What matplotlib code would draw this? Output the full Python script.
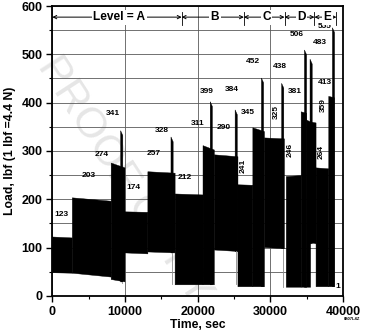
import matplotlib
matplotlib.use("Agg")
import matplotlib.pyplot as plt
from matplotlib.ticker import MultipleLocator

plt.rcParams['font.family'] = ['Liberation Sans', 'DejaVu Sans']
plt.rcParams['font.weight'] = 'bold'

# load blocks: start/end time, top (max) and bottom (min) load at block start and end
blk_start = [0, 2750, 8100, 10000, 13150, 16900, 20740, 22300, 25550, 27600, 29200,
             32200, 34250, 35000, 35550, 36300, 38050]
blk_end = [2750, 8100, 10000, 13150, 16900, 20740, 22300, 25550, 27600, 29200, 31950,
           34250, 35000, 35550, 36300, 38050, 38830]
top_a = [122, 203, 275, 174, 257, 211, 311, 292, 230, 348, 327, 247, 381, 364, 360, 265, 413]
top_b = [120, 196, 265, 173, 254, 209, 302, 288, 229, 340, 325, 249, 378, 360, 358, 263, 410]
bot_a = [48, 47, 34, 89, 91, 23, 23, 95, 19, 19, 100, 18, 18, 18, 110, 19, 19]
bot_b = [47, 39, 29, 87, 89, 23, 23, 92, 19, 19, 98, 18, 18, 18, 108, 19, 19]

# overload spikes
spike_t = [9700, 16630, 22030, 25460, 29080, 31860, 35000, 35770, 38850]
spike_peak = [342, 329, 402, 385, 451, 440, 509, 490, 555]
spike_base = [29, 89, 23, 92, 19, 98, 18, 108, 19]
spike_low = [27, 25, 23, 25, 19, 19, 18, 108, 19]

# level bar
level_names = ['Level = A', 'B', 'C', 'D', 'E']
level_edges = [0, 17800, 26360, 31960, 36080, 39100]

# value labels
val_text = ['123', '203', '274', '341', '174', '257', '328', '212', '311', '399', '290',
            '384', '345', '241', '452', '325', '438', '246', '381', '506', '483', '413',
            '359', '264', '555']
val_x = [1200, 5050, 6800, 8400, 11200, 13900, 15100, 18200, 20000, 21200, 23600,
         24650, 26900, 26250, 27650, 30800, 31280, 32800, 33350, 33600, 36800, 37500,
         37300, 37000, 37500]
val_y = [168, 250, 292, 378, 225, 295, 342, 246, 357, 424, 349, 428, 380, 269, 485,
         381, 475, 302, 423, 542, 524, 441, 395, 299, 557]
val_rot = [0, 0, 0, 0, 0, 0, 0, 0, 0, 0, 0, 0, 0, 90, 0, 90, 0, 90, 0, 0, 0, 0, 90, 90, 0]

fig = plt.figure(figsize=(3.66, 3.34), dpi=100)
fig.text(0.34, 0.46, 'PROOF COPY', rotation=-57, fontsize=31, color='#e6e6e6',
         ha='center', va='center', fontweight='normal', zorder=-1)
ax = fig.add_axes([0.143, 0.114, 0.794, 0.868])
ax.patch.set_alpha(0)

for s, e, ta, tb, ba, bb in zip(blk_start, blk_end, top_a, top_b, bot_a, bot_b):
    ax.fill([s, s, e, e], [ba, ta, tb, bb], color='black', lw=0.3, zorder=3)

w = 300
for t, p, b, lo in zip(spike_t, spike_peak, spike_base, spike_low):
    ax.fill([t - w, t - w, t, t], [b, p, p - 10, b], color='black', lw=0.3, zorder=3)
    ax.plot([t - w / 2, t - w / 2], [lo, b], color='0.55', lw=0.6, zorder=3)

for txt, x, y, r in zip(val_text, val_x, val_y, val_rot):
    ax.text(x, y, txt, fontsize=6, ha='center', va='center', rotation=r, zorder=4)
ax.text(39300, 19, '1', fontsize=6, ha='center', va='center', zorder=4)

ybar = 577
for i, name in enumerate(level_names):
    x0, x1 = level_edges[i], level_edges[i + 1]
    ax.annotate('', xy=(x0, ybar), xytext=(x1, ybar),
                arrowprops=dict(arrowstyle='<->', lw=0.7, shrinkA=0, shrinkB=0,
                                mutation_scale=6), zorder=4)
    ax.plot([x1, x1], [560, 588], color='black', lw=0.6, zorder=4)
    ax.text((x0 + x1) / 2 + 300, ybar, name, fontsize=8.6, ha='center', va='center',
            zorder=5, bbox=dict(facecolor='white', edgecolor='none', pad=1))

ax.set_xlim(0, 40000)
ax.set_ylim(0, 600)
ax.xaxis.set_major_locator(MultipleLocator(10000))
ax.xaxis.set_minor_locator(MultipleLocator(5000))
ax.yaxis.set_major_locator(MultipleLocator(100))
ax.yaxis.set_minor_locator(MultipleLocator(50))
ax.grid(True, which='major', axis='x', color='0.35', lw=0.6, zorder=1)
ax.grid(True, which='both', axis='y', color='0.35', lw=0.6, zorder=1)
ax.set_axisbelow(True)
ax.tick_params(which='major', length=4, width=1, labelsize=9, pad=3)
ax.tick_params(which='minor', length=2.5, width=0.8)
for lab in ax.get_xticklabels() + ax.get_yticklabels():
    lab.set_fontweight('bold')
for sp in ax.spines.values():
    sp.set_linewidth(1.3)

ax.set_xlabel('Time, sec', fontsize=8.8, fontweight='bold', labelpad=1)
ax.set_ylabel('Load, lbf (1 lbf =4.4 N)', fontsize=8.8, fontweight='bold', labelpad=4)
fig.text(0.985, 0.045, '0807L4Z', fontsize=3, ha='right', va='center')

fig.savefig('out.png', dpi=100)
